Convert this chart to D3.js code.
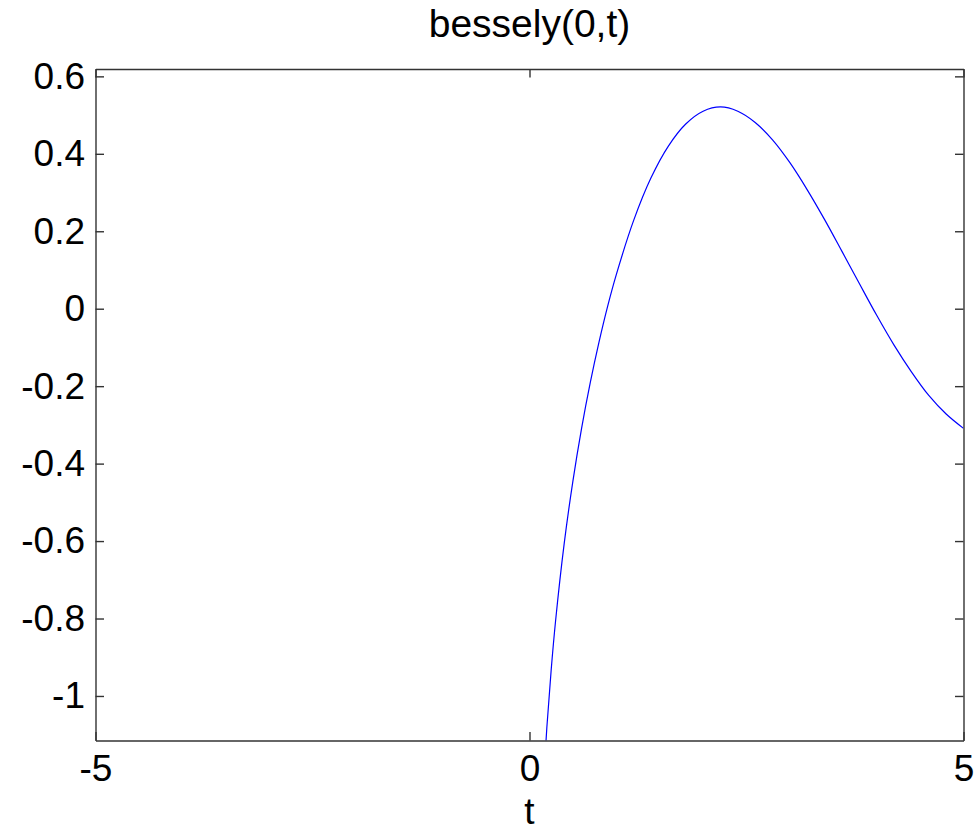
<!DOCTYPE html>
<html>
<head>
<meta charset="utf-8">
<script src="https://cdn.jsdelivr.net/npm/d3@7"></script>
<style>
  html, body { margin: 0; padding: 0; background: #ffffff; }
  svg { display: block; }
  text { font-family: "Liberation Sans", Arial, Helvetica, sans-serif; fill: #000; }
</style>
</head>
<body>
<svg id="chart" width="979" height="832"></svg>
<script>
// ---- data ----
const tValues = [0.15, 0.2, 0.25, 0.3, 0.4, 0.5, 0.6, 0.7, 0.8, 0.9, 1.0, 1.2, 1.4, 1.6, 1.8, 2.0, 2.2, 2.4, 2.6, 2.8, 3.0, 3.2, 3.4, 3.6, 3.8, 4.0, 4.2, 4.4, 4.6, 4.8, 5.0];
const yValues = [-1.27, -1.081, -0.932, -0.807, -0.606, -0.445, -0.309, -0.191, -0.087, 0.006, 0.088, 0.228, 0.338, 0.420, 0.477, 0.510, 0.521, 0.510, 0.481, 0.436, 0.377, 0.307, 0.230, 0.148, 0.065, -0.017, -0.094, -0.163, -0.224, -0.272, -0.309];
const xTicks = [-5, 0, 5];
const yTicks = [-1, -0.8, -0.6, -0.4, -0.2, 0, 0.2, 0.4, 0.6];
const xDomain = [-5, 5];
const yDomain = [-1.115, 0.619];
const titleText = "bessely(0,t)";
const xLabelText = "t";

// ---- layout ----
const pLeft = 95.5, pRight = 963.5, pTop = 69, pBottom = 740.5;
const svg = d3.select("#chart");
const x = d3.scaleLinear().domain(xDomain).range([pLeft, pRight]);
const y = d3.scaleLinear().domain(yDomain).range([pBottom, pTop]);
const axisColor = "#333333";
const tickLen = 8.5;
const tickFont = 37;

svg.append("rect").attr("x", 0).attr("y", 0).attr("width", 979).attr("height", 832).attr("fill", "#fff");

// clip
svg.append("clipPath").attr("id", "plotclip")
  .append("rect").attr("x", pLeft).attr("y", pTop).attr("width", pRight - pLeft).attr("height", pBottom - pTop);

// curve
const pts = tValues.map((t, i) => [t, yValues[i]]);
svg.append("path")
  .attr("clip-path", "url(#plotclip)")
  .attr("d", d3.line().x(d => x(d[0])).y(d => y(d[1])).curve(d3.curveCatmullRom)(pts))
  .attr("fill", "none").attr("stroke", "#0000ff").attr("stroke-width", 1.2);

// axes
const fmt = v => (Math.abs(v) < 1e-9 ? "0" : String(+v.toFixed(1)));
const gBottom = svg.append("g").attr("transform", `translate(0,${pBottom})`)
  .call(d3.axisBottom(x).tickValues(xTicks).tickSizeInner(-tickLen).tickSizeOuter(0).tickPadding(14).tickFormat(d => String(d)));
const gTop = svg.append("g").attr("transform", `translate(0,${pTop})`)
  .call(d3.axisTop(x).tickValues(xTicks).tickSizeInner(-tickLen).tickSizeOuter(0).tickFormat(""));
const gLeft = svg.append("g").attr("transform", `translate(${pLeft},0)`)
  .call(d3.axisLeft(y).tickValues(yTicks).tickSizeInner(-tickLen).tickSizeOuter(0).tickPadding(10.5).tickFormat(fmt));
const gRight = svg.append("g").attr("transform", `translate(${pRight},0)`)
  .call(d3.axisRight(y).tickValues(yTicks).tickSizeInner(-tickLen).tickSizeOuter(0).tickFormat(""));

[gBottom, gTop, gLeft, gRight].forEach(g => {
  g.selectAll(".domain").attr("stroke", axisColor).attr("stroke-width", 1.4);
  g.selectAll(".tick line").attr("stroke", axisColor).attr("stroke-width", 1.4);
  g.selectAll(".tick text").attr("font-size", tickFont).attr("font-family", '"Liberation Sans", Arial, sans-serif').attr("fill", "#000");
});

// title and label
svg.append("text").attr("x", (pLeft + pRight) / 2).attr("y", 37).attr("text-anchor", "middle")
  .attr("font-size", 39).text(titleText);
svg.append("text").attr("x", (pLeft + pRight) / 2).attr("y", 824).attr("text-anchor", "middle")
  .attr("font-size", tickFont).text(xLabelText);
</script>
</body>
</html>
